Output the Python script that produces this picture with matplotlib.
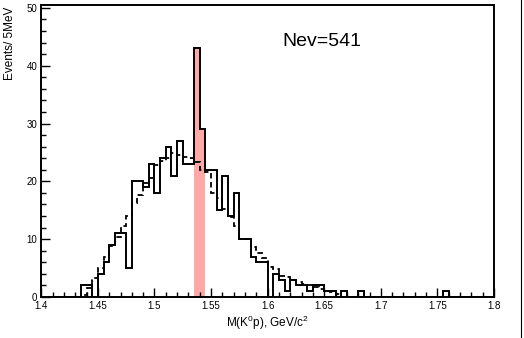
import matplotlib
matplotlib.use('Agg')
import matplotlib.pyplot as plt
from matplotlib.lines import Line2D
import numpy as np

# bins: 5 MeV from 1.40 to 1.80 GeV
bin_lo, bin_hi, bin_w = 1.40, 1.80, 0.005

# data histogram (events per bin)
counts = [0, 0, 0, 0, 0, 0, 0, 2, 2, 0,
          4, 6, 9, 11, 11, 5, 20, 20, 19, 23,
          18, 24, 26, 21, 27, 23, 23, 43, 29, 22,
          22, 15, 21, 14, 18, 10, 10, 7, 6, 6,
          0, 4, 3, 1, 3, 2, 2, 1, 2, 2,
          1, 1, 0, 1, 0, 0, 1, 0, 0, 0,
          0, 0, 0, 0, 0, 0, 0, 0, 0, 0,
          0, 1, 0, 0, 0, 0, 0, 0, 0, 0]

# background expectation (dashed)
background = [0, 0, 0, 0, 0, 0, 0, 0.4, 1.5, 3.2,
              5.0, 6.9, 8.9, 10.3, 12.3, 14.0, 16.3, 17.6, 19.8, 20.6,
              22.8, 23.5, 24.0, 24.9, 24.6, 24.2, 24.0, 23.4, 22.0, 21.7,
              18.0, 17.1, 15.3, 13.9, 12.2, 10.1, 10.0, 8.7, 7.6, 6.7,
              5.2, 4.8, 3.6, 3.4, 3.0, 2.6, 2.3, 2.0, 1.7, 1.4,
              1.1, 0.9, 0.6, 0, 0, 0, 0, 0, 0, 0,
              0, 0, 0, 0, 0, 0, 0, 0, 0, 0,
              0, 0, 0, 0, 0, 0, 0, 0, 0, 0]

# signal bins (shaded), first and last bin index
peak_bins = (27, 28)
nev_text = 'Nev=541'

plt.rcParams['font.family'] = ['Liberation Sans', 'DejaVu Sans']
plt.rcParams['mathtext.fontset'] = 'custom'
plt.rcParams['mathtext.rm'] = 'Liberation Sans'
plt.rcParams['mathtext.it'] = 'Liberation Sans'

edges = np.linspace(bin_lo, bin_hi, len(counts) + 1)
counts = np.array(counts, dtype=float)
background = np.array(background, dtype=float)

fig = plt.figure(figsize=(5.24, 3.38), dpi=100)
ax = fig.add_axes([41.3 / 524, 41 / 338, (494 - 41.3) / 524, 292 / 338])

# shaded peak
i0, i1 = peak_bins
ax.stairs(counts[i0:i1 + 1], edges[i0:i1 + 2], fill=True,
          color='#ffa8a8', linewidth=0, zorder=1)

ax.stairs(background, edges, color='black', linewidth=1.3,
          linestyle=(0, (3, 2)), zorder=2)
ax.stairs(counts, edges, color='black', linewidth=1.4, zorder=3)

ax.set_xlim(bin_lo, bin_hi)
ax.set_ylim(0, 50.5)
ax.set_xticks(np.arange(1.4, 1.8001, 0.05))
ax.set_xticklabels(['1.4', '1.45', '1.5', '1.55', '1.6', '1.65', '1.7', '1.75', '1.8'])
ax.set_xticks(np.arange(1.4, 1.8001, 0.01), minor=True)
ax.set_yticks(np.arange(0, 51, 10))
ax.set_yticks(np.arange(0, 51, 2), minor=True)

ax.tick_params(which='both', direction='in', top=False, right=False,
               width=1.0, labelsize=7)
ax.tick_params(which='major', length=6.5, pad=3)
ax.tick_params(which='minor', length=3.5)
for s in ax.spines.values():
    s.set_linewidth(1.4)

ax.text(1.6134, 43.4, nev_text, fontsize=14, va='baseline', ha='left')

fig.text(10 / 524, 1 - 7 / 338, 'Events/ 5MeV', rotation=90,
         ha='center', va='top', fontsize=8.5)
fig.text(267 / 524, 1 - 323 / 338, r'M(K$^{0}$p), GeV/c$^{2}$',
         ha='center', va='center', fontsize=8.5)

# window edge on the right
fig.add_artist(Line2D([521 / 524, 521 / 524], [0, 1], color='black',
                      linewidth=0.8, transform=fig.transFigure))

fig.savefig('out.png', dpi=100)
